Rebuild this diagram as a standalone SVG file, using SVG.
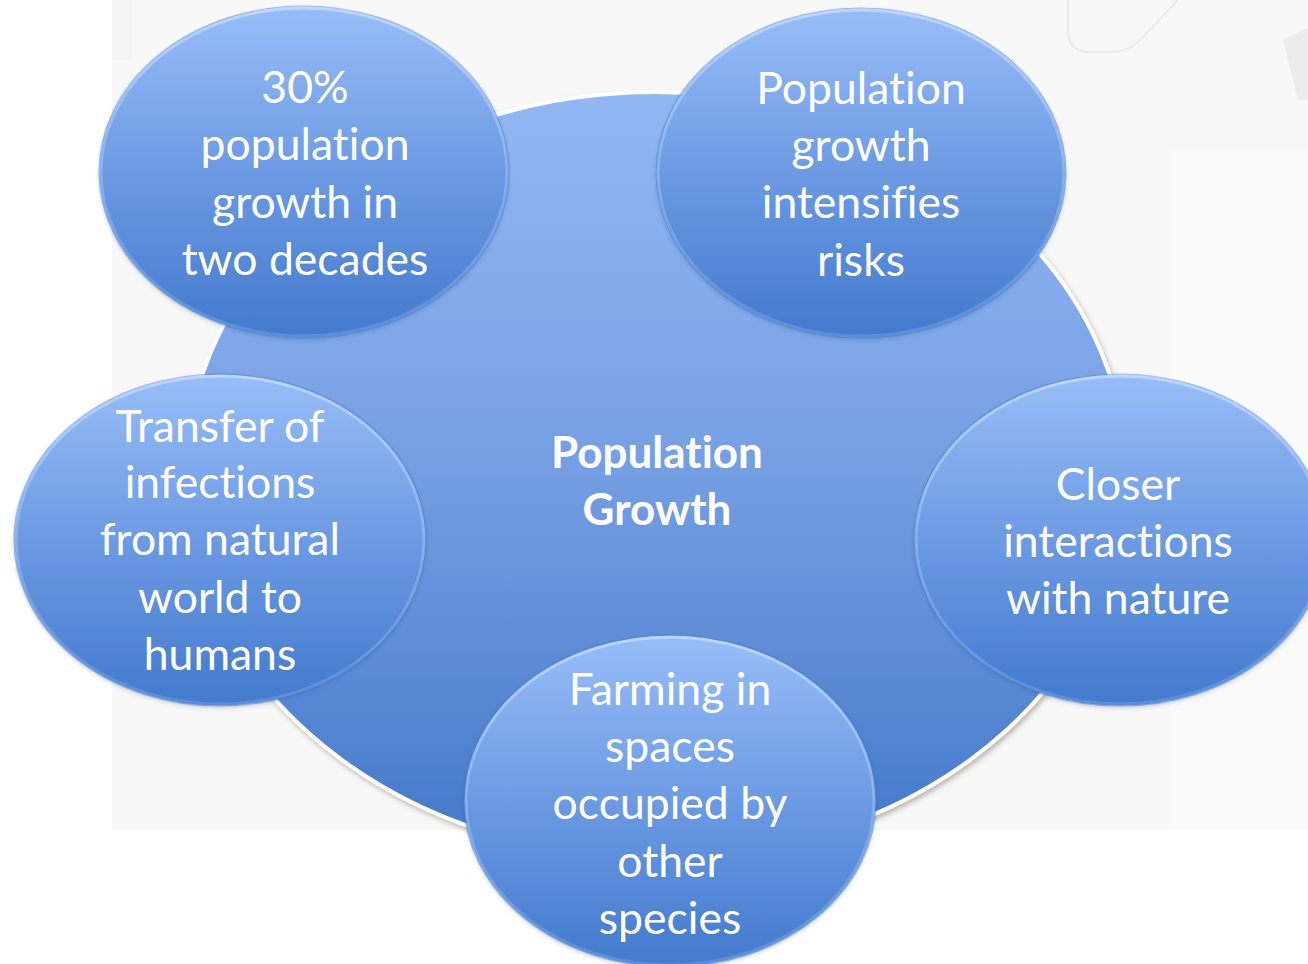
<svg xmlns="http://www.w3.org/2000/svg" width="1308" height="964" viewBox="0 0 1308 964">
  <defs>
    <linearGradient id="hubFill" x1="0" y1="0" x2="0" y2="1">
      <stop offset="0" stop-color="#93b7f3"/>
      <stop offset="0.45" stop-color="#78a1e5"/>
      <stop offset="1" stop-color="#4378c8"/>
    </linearGradient>
    <linearGradient id="bubbleFill" x1="0" y1="0" x2="0" y2="1">
      <stop offset="0" stop-color="#98bdf8"/>
      <stop offset="0.5" stop-color="#6c9ae3"/>
      <stop offset="1" stop-color="#437acd"/>
    </linearGradient>
    <linearGradient id="bubbleRim" x1="0" y1="0" x2="0" y2="1">
      <stop offset="0" stop-color="#bcd6fd"/>
      <stop offset="0.5" stop-color="#87b0ef"/>
      <stop offset="1" stop-color="#5a8edb"/>
    </linearGradient>
    <filter id="hubShadow" x="-10%" y="-10%" width="120%" height="120%">
      <feDropShadow dx="2" dy="3" stdDeviation="2.5" flood-color="#7a6a60" flood-opacity="0.45"/>
    </filter>
    <filter id="bubbleShadow" x="-10%" y="-10%" width="120%" height="120%">
      <feDropShadow dx="0" dy="2" stdDeviation="2" flood-color="#2d4f86" flood-opacity="0.3"/>
    </filter>
    <style>
      .bubble { fill: url(#bubbleFill); stroke: url(#bubbleRim); stroke-width: 3; filter: url(#bubbleShadow); }
      .edge { fill: none; stroke: #4f7fc7; stroke-opacity: 0.5; stroke-width: 1.2; }
      .label { font-family: Lato, "Open Sans", sans-serif; font-size: 44.5px; fill: #ffffff; text-anchor: middle; font-variant-ligatures: none; }
      .title { font-family: Lato, "Open Sans", sans-serif; font-size: 44px; font-weight: bold; fill: #ffffff; text-anchor: middle; font-variant-ligatures: none; }
    </style>
  </defs>

  <!-- page backdrop -->
  <rect x="0" y="0" width="1308" height="964" fill="#ffffff"/>
  <g id="backdrop">
    <rect x="112" y="0" width="1196" height="830" fill="#f8f8f8"/>
    <rect x="112" y="0" width="20" height="60" fill="#f3f3f3"/>
    <rect x="1170" y="150" width="138" height="680" fill="#fafafa"/>
    <path d="M1068 0 L1068 30 Q1068 52 1090 52 L1112 52 Q1130 52 1145 35 L1178 0" fill="none" stroke="#e6e6e6" stroke-width="1.5"/>
    <path d="M1283 40 L1308 28 L1308 100 L1298 100 Z" fill="#ececec"/>
  </g>

  <!-- central hub -->
  <g id="hub">
    <ellipse cx="656" cy="475" rx="470" ry="383" fill="url(#hubFill)" stroke="#ffffff" stroke-width="4" filter="url(#hubShadow)"/>
    <text class="title" x="657" y="468">Population</text>
    <text class="title" x="657" y="525">Growth</text>
  </g>

  <!-- surrounding bubbles -->
  <g id="node-growth-rate">
    <ellipse class="bubble" cx="304" cy="172" rx="203" ry="164"/>
    <ellipse class="edge" cx="304" cy="172" rx="205" ry="166"/>
    <text class="label" x="305" y="103">30%</text>
    <text class="label" x="305" y="160">population</text>
    <text class="label" x="305" y="218">growth in</text>
    <text class="label" x="305" y="275">two decades</text>
  </g>

  <g id="node-risks">
    <ellipse class="bubble" cx="861" cy="173" rx="203" ry="163"/>
    <ellipse class="edge" cx="861" cy="173" rx="205" ry="165"/>
    <text class="label" x="861" y="104">Population</text>
    <text class="label" x="861" y="161">growth</text>
    <text class="label" x="861" y="218">intensifies</text>
    <text class="label" x="861" y="276">risks</text>
  </g>

  <g id="node-infections">
    <ellipse class="bubble" cx="220" cy="540" rx="204" ry="164"/>
    <ellipse class="edge" cx="220" cy="540" rx="206" ry="166"/>
    <text class="label" x="220" y="442">Transfer of</text>
    <text class="label" x="220" y="498">infections</text>
    <text class="label" x="220" y="555">from natural</text>
    <text class="label" x="220" y="613">world to</text>
    <text class="label" x="220" y="670">humans</text>
  </g>

  <g id="node-nature">
    <ellipse class="bubble" cx="1120" cy="540" rx="204" ry="164"/>
    <ellipse class="edge" cx="1120" cy="540" rx="206" ry="166"/>
    <text class="label" x="1118" y="500">Closer</text>
    <text class="label" x="1118" y="557">interactions</text>
    <text class="label" x="1118" y="614">with nature</text>
  </g>

  <g id="node-farming">
    <ellipse class="bubble" cx="670" cy="801" rx="204" ry="164"/>
    <ellipse class="edge" cx="670" cy="801" rx="206" ry="166"/>
    <text class="label" x="670" y="705">Farming in</text>
    <text class="label" x="670" y="762">spaces</text>
    <text class="label" x="670" y="819">occupied by</text>
    <text class="label" x="670" y="877">other</text>
    <text class="label" x="670" y="934">species</text>
  </g>

  <g id="connectors"/>
</svg>
